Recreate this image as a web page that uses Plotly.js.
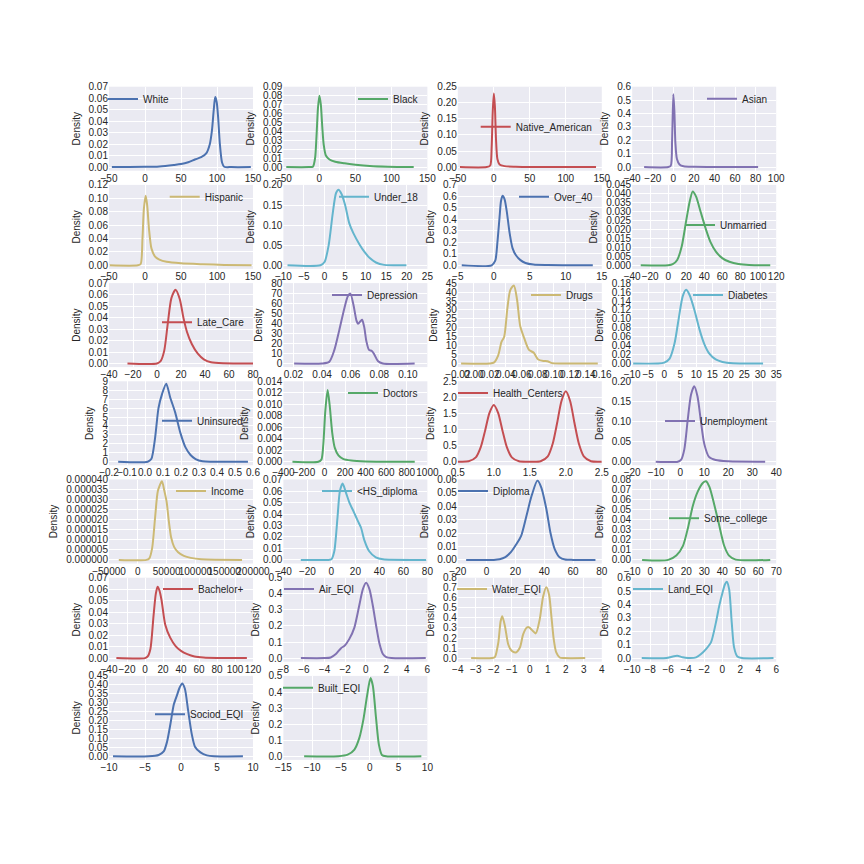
<!DOCTYPE html>
<html><head><meta charset="utf-8">
<script src="https://cdn.plot.ly/plotly-3.0.1.min.js"></script>
<style>html,body{margin:0;padding:0;background:#fff}#chart{width:864px;height:864px}</style>
</head><body><div id="chart"></div>
<script>
const names = ["White","Black","Native_American","Asian","Hispanic","Under_18","Over_40","Unmarried",
  "Late_Care","Depression","Drugs","Diabetes","Uninsured","Doctors","Health_Centers","Unemployment",
  "Income","<HS_diploma","Diploma","Some_college","Bachelor+","Air_EQI","Water_EQI","Land_EQI",
  "Sociod_EQI","Built_EQI"];

const white_x = [-46, 0, 20, 40, 50, 60, 70, 78, 85, 90, 93, 95.5, 97.5, 99.5, 101.5, 104, 107, 110, 120, 147];
const white_y = [0, 0.0002, 0.0006, 0.0018, 0.0026, 0.0042, 0.0068, 0.0086, 0.0120, 0.020, 0.032, 0.050, 0.061, 0.057, 0.044, 0.020, 0.004, 0.0003, 0, 0];
const black_x = [-46, -15, -9, -6, -4, -2, 0, 2, 4, 6, 9, 14, 22, 35, 50, 70, 95, 131];
const black_y = [0, 0, 0.0005, 0.010, 0.035, 0.066, 0.080, 0.070, 0.045, 0.025, 0.013, 0.0085, 0.006, 0.0042, 0.0027, 0.0012, 0.0004, 0];
const native_x = [-47, -10, -5, -3, -1.5, 0, 1.5, 3, 5, 8, 15, 30, 60, 100, 142];
const native_y = [0, 0, 0.005, 0.06, 0.17, 0.229, 0.19, 0.09, 0.025, 0.008, 0.003, 0.0012, 0.0004, 0.0001, 0];
const asian_x = [-28.4, -5, -2.5, -1.2, 0, 1, 2, 3.5, 6, 10, 20, 40, 82.4];
const asian_y = [0, 0, 0.01, 0.2, 0.545, 0.42, 0.18, 0.06, 0.02, 0.006, 0.002, 0.0004, 0];
const hispanic_x = [-49, -10, -6, -3.5, -1.5, 1, 3, 5.5, 9, 14, 20, 30, 50, 80, 110, 148];
const hispanic_y = [0, 0, 0.002, 0.04, 0.085, 0.104, 0.09, 0.055, 0.025, 0.013, 0.0085, 0.0052, 0.003, 0.0016, 0.0006, 0];
const under18_x = [-9, -1, 0, 1, 2, 2.8, 3.4, 4.1, 5, 6, 7, 8.5, 9.8, 11, 12.5, 14.5, 19.9];
const under18_y = [0, 0, 0.008, 0.05, 0.13, 0.18, 0.188, 0.178, 0.15, 0.105, 0.08, 0.052, 0.032, 0.018, 0.007, 0.001, 0];
const over40_x = [-4.45, -0.3, 0.2, 0.5, 0.8, 1.0, 1.22, 1.5, 1.8, 2.2, 2.6, 3.1, 3.7, 4.4, 5.5, 7.5, 13.75];
const over40_y = [0, 0, 0.04, 0.2, 0.42, 0.56, 0.606, 0.575, 0.47, 0.28, 0.15, 0.085, 0.045, 0.02, 0.006, 0.002, 0];
const unmarried_x = [-30.5, 0, 5, 10, 15, 20, 24, 27.2, 31, 36, 42, 47, 53, 60, 68, 78, 90, 113.4];
const unmarried_y = [0, 0, 0.0006, 0.003, 0.0105, 0.025, 0.036, 0.0414, 0.0385, 0.030, 0.020, 0.013, 0.0077, 0.004, 0.002, 0.0007, 0.0001, 0];
const latecare_x = [-24.6, 0, 3, 6, 9, 12, 15.5, 19, 22, 25, 29, 34, 39, 45, 55, 80];
const latecare_y = [0, 0, 0.002, 0.011, 0.035, 0.057, 0.0643, 0.056, 0.040, 0.0275, 0.017, 0.0085, 0.0036, 0.001, 0.0001, 0];
const depression_x = [0.0205, 0.04, 0.045, 0.0485, 0.052, 0.0556, 0.058, 0.0598, 0.062, 0.064, 0.0652, 0.0668, 0.068, 0.0695, 0.071, 0.0728, 0.0748, 0.0765, 0.079, 0.0825, 0.1047];
const depression_y = [0, 0, 1.6, 13, 33, 55, 67, 69.6, 58, 43, 39.5, 42, 43.5, 36, 22, 13.5, 12.5, 9, 2.5, 0, 0];
const drugs_x = [-0.0159, 0.02, 0.025, 0.0305, 0.0345, 0.038, 0.042, 0.0455, 0.0501, 0.054, 0.058, 0.063, 0.069, 0.075, 0.0805, 0.087, 0.092, 0.098, 0.11, 0.155];
const drugs_y = [0, 0, 0.5, 4.6, 12, 15, 31, 41, 43.75, 36, 21, 14.2, 7.6, 6, 2.2, 1.4, 1.3, 0.2, 0, 0];
const diabetes_x = [-9.7, -2, 0, 1.7, 3.2, 4.7, 5.8, 6.84, 7.9, 9.4, 11, 12.5, 14.1, 16.1, 18.2, 21.5, 30.9];
const diabetes_y = [0, 0, 0.002, 0.011, 0.044, 0.108, 0.151, 0.165, 0.154, 0.121, 0.077, 0.044, 0.022, 0.009, 0.0035, 0.0005, 0];
const uninsured_x = [-0.149, 0.015, 0.035, 0.055, 0.075, 0.095, 0.118, 0.14, 0.168, 0.197, 0.225, 0.253, 0.281, 0.32, 0.572];
const uninsured_y = [0, 0, 0.3, 2.5, 6, 7.6, 8.74, 7.2, 5.5, 3.2, 1.6, 0.75, 0.3, 0.05, 0];
const doctors_x = [-312, -60, -30, -12, 8, 30, 50, 75, 100, 135, 180, 260, 400, 877];
const doctors_y = [0, 0, 0.0004, 0.003, 0.009, 0.0125, 0.0098, 0.005, 0.0024, 0.0011, 0.0005, 0.0002, 0.00005, 0];
const health_x = [0.5, 0.65, 0.75, 0.82, 0.88, 0.94, 1.0, 1.06, 1.12, 1.18, 1.25, 1.35, 1.5, 1.65, 1.75, 1.82, 1.88, 1.94, 2.0, 2.06, 2.12, 2.18, 2.25, 2.35, 2.5];
const health_y = [0, 0.011, 0.134, 0.462, 0.974, 1.52, 1.765, 1.52, 0.974, 0.462, 0.134, 0.011, 0, 0.014, 0.166, 0.574, 1.21, 1.89, 2.19, 1.89, 1.21, 0.574, 0.166, 0.014, 0];
const unemp_x = [-10.2, -1, 0.4, 1.7, 3.1, 4.5, 5.86, 7.2, 8.6, 10, 12, 14.8, 20, 35.4];
const unemp_y = [0, 0, 0.005, 0.03, 0.102, 0.167, 0.188, 0.163, 0.102, 0.045, 0.012, 0.004, 0.001, 0];
const income_x = [-33000, 15000, 20000, 25000, 30000, 35000, 41900, 46000, 50000, 54000, 58000, 63000, 70000, 80000, 92000, 110000, 181000];
const income_y = [0, 0, 0.0000008, 0.000006, 0.000021, 0.0000345, 0.0000392, 0.0000345, 0.000029, 0.000019, 0.000011, 0.0000065, 0.0000038, 0.000002, 0.000001, 0.0000003, 0];
const hsdip_x = [-25.5, -2, 0, 2.4, 5, 7.1, 9.4, 12, 15, 19, 22, 24.7, 27.5, 31.5, 37, 43, 79];
const hsdip_y = [0, 0, 0.0005, 0.0075, 0.036, 0.06, 0.0665, 0.059, 0.05, 0.041, 0.034, 0.028, 0.017, 0.0075, 0.0022, 0.0005, 0];
const diploma_x = [-14.2, 5, 9, 13, 17, 20.5, 24, 27.7, 31.2, 35.3, 38, 41.5, 44.3, 47.3, 50.7, 54.5, 60, 75.6];
const diploma_y = [0, 0, 0.0004, 0.002, 0.006, 0.0115, 0.018, 0.033, 0.0477, 0.0593, 0.054, 0.038, 0.0205, 0.0081, 0.002, 0.0003, 0, 0];
const somecol_x = [-4.5, 10, 14.5, 18.2, 21, 23.7, 26.4, 29.2, 31, 32.9, 35.6, 38.4, 41.1, 43.8, 47.5, 66.7];
const somecol_y = [0, 0, 0.0043, 0.014, 0.032, 0.054, 0.068, 0.0766, 0.0783, 0.0727, 0.055, 0.034, 0.0141, 0.0043, 0.0003, 0];
const bachelor_x = [-31.8, 0, 3, 6, 9.5, 12, 14, 16, 18.5, 22.5, 28, 34, 40, 47, 55, 65, 80, 113.2];
const bachelor_y = [0, 0, 0.0015, 0.008, 0.037, 0.056, 0.0621, 0.059, 0.05, 0.029, 0.0178, 0.0105, 0.0063, 0.0034, 0.0014, 0.0005, 0.0001, 0];
const air_x = [-6.3, -4, -3.4, -2.9, -2.4, -2.05, -1.6, -1.1, -0.6, -0.28, 0.04, 0.37, 0.7, 1.02, 1.35, 1.67, 2.0, 2.5, 5.84];
const air_y = [0, 0, 0.004, 0.025, 0.062, 0.077, 0.118, 0.19, 0.335, 0.428, 0.469, 0.428, 0.324, 0.2, 0.087, 0.025, 0.006, 0, 0];
const water_x = [-3.26, -2.1, -1.94, -1.75, -1.62, -1.53, -1.38, -1.2, -1.01, -0.77, -0.55, -0.37, -0.18, -0.055, 0.09, 0.33, 0.55, 0.74, 0.92, 1.07, 1.2, 1.33, 1.47, 1.66, 1.9, 3.08];
const water_y = [0, 0, 0.01, 0.154, 0.367, 0.416, 0.318, 0.138, 0.072, 0.056, 0.105, 0.236, 0.302, 0.308, 0.285, 0.246, 0.384, 0.613, 0.705, 0.63, 0.416, 0.187, 0.056, 0.006, 0, 0];
const land_x = [-8.94, -6.2, -5.6, -5.0, -4.4, -3.8, -2.9, -2.35, -1.8, -1.25, -0.7, -0.33, 0.04, 0.3, 0.51, 0.77, 1.06, 1.32, 1.68, 2.2, 5.7];
const land_y = [0, 0, 0.01, 0.017, 0.006, 0.001, 0.005, 0.03, 0.067, 0.117, 0.265, 0.39, 0.49, 0.55, 0.57, 0.515, 0.265, 0.08, 0.012, 0, 0];
const sociod_x = [-9.44, -4.5, -3.1, -2.4, -1.94, -1.47, -1.0, -0.54, -0.2, 0.16, 0.53, 1.0, 1.48, 1.94, 2.7, 3.6, 4.6, 8.6];
const sociod_y = [0, 0, 0.007, 0.027, 0.081, 0.181, 0.29, 0.344, 0.384, 0.408, 0.38, 0.254, 0.127, 0.054, 0.022, 0.005, 0, 0];
const built_x = [-11.4, -5.5, -3.84, -2.67, -1.8, -1.1, -0.47, 0.12, 0.52, 1.1, 1.57, 2.1, 2.85, 8.95];
const built_y = [0, 0, 0.01, 0.042, 0.116, 0.231, 0.378, 0.487, 0.441, 0.231, 0.074, 0.008, 0, 0];

const curves = [[white_x,white_y],[black_x,black_y],[native_x,native_y],[asian_x,asian_y],
  [hispanic_x,hispanic_y],[under18_x,under18_y],[over40_x,over40_y],[unmarried_x,unmarried_y],
  [latecare_x,latecare_y],[depression_x,depression_y],[drugs_x,drugs_y],[diabetes_x,diabetes_y],
  [uninsured_x,uninsured_y],[doctors_x,doctors_y],[health_x,health_y],[unemp_x,unemp_y],
  [income_x,income_y],[hsdip_x,hsdip_y],[diploma_x,diploma_y],[somecol_x,somecol_y],
  [bachelor_x,bachelor_y],[air_x,air_y],[water_x,water_y],[land_x,land_y],
  [sociod_x,sociod_y],[built_x,built_y]];

// axis scales (tick labels)
const xRanges = [[-50,150],[-50,150],[-50,150],[-40,100],[-50,150],[-10,25],[-5,15],[-40,120],
  [-40,80],[0.013,0.1136],[-0.02,0.16],[-10,35],[-0.2,0.6],[-400,1000],[0.5,2.5],[-20,40],
  [-50000,200000],[-40,80],[-20,80],[-10,70],[-40,120],[-8,6],[-4,4],[-10,6],[-10,10],[-15,10]];
const xSteps = [50,50,50,20,50,5,5,20, 20,0.02,0.02,5,0.1,200,0.5,10, 50000,20,20,10,20,2,1,2,5,5];
const xFormats = ['d','d','d','d','d','d','d','d', 'd','.2f','.2f','d','.1f','d','.1f','d', 'd','d','d','d','d','d','d','d','d','d'];
const yMax = [0.07,0.09,0.25,0.6,0.12,0.2,0.7,0.045, 0.07,80,45,0.18,9,0.014,2.5,0.2, 0.00004,0.07,0.06,0.08,0.07,0.5,0.8,0.6,0.45,0.5];
const ySteps = [0.01,0.01,0.05,0.1,0.02,0.05,0.1,0.005, 0.01,10,5,0.02,1,0.002,0.5,0.05, 0.000005,0.01,0.01,0.01,0.01,0.1,0.1,0.1,0.05,0.1];
const yFormats = ['.2f','.2f','.2f','.1f','.2f','.2f','.1f','.3f', '.2f','d','d','.2f','d','.3f','.1f','.2f', '.6f','.2f','.2f','.2f','.2f','.1f','.1f','.1f','.2f','.1f'];

// legend text anchor positions (px: text left, text middle)
const legendPos = [[145,99],[395,99],[517.7,126.7],[744,98.7],
  [206.7,196.7],[376,196.7],[556,196.7],[722,225],
  [199,322.3],[369,295],[568,295],[730,295],
  [199,420.7],[385,393],[495,393],[702,421],
  [213,491],[359,491],[495,491],[706,518.3],
  [200,589],[321,589],[494,589],[670,589],
  [192,714.3],[320,687.7]];

const palette = ['#4C72B0','#55A868','#C44E52','#8172B2','#CCB974','#64B5CD'];
const W = 864, H = 864;
const textColor = '#262626';
const traces = [];
const layout = {
  width: W, height: H, margin: {l:0,r:0,t:0,b:0},
  paper_bgcolor: '#ffffff', plot_bgcolor: '#EAEAF2',
  font: {family: 'Liberation Sans, Arial, sans-serif', size: 10, color: textColor},
  showlegend: true
};

for (let i = 0; i < names.length; i++) {
  const r = Math.floor(i / 4), c = i % 4;
  const left = 109 + c * 174.4, width = 144;
  const top = 86.7 + r * 98.2, height = 84;
  const sfx = i === 0 ? '' : String(i + 1);
  const legId = 'legend' + sfx;
  traces.push({
    type: 'scatter', mode: 'lines',
    x: curves[i][0], y: curves[i][1],
    xaxis: 'x' + sfx, yaxis: 'y' + sfx,
    name: names[i].replace('<', '&lt;'),
    legend: legId,
    line: {color: palette[i % 6], width: 2, shape: 'spline', smoothing: 0.7},
    hoverinfo: 'skip'
  });
  layout['xaxis' + sfx] = {
    domain: [left / W, (left + width) / W], anchor: 'y' + sfx,
    range: xRanges[i], tickmode: 'linear', tick0: 0, dtick: xSteps[i], tickformat: xFormats[i],
    showgrid: true, gridcolor: '#ffffff', gridwidth: 1, zeroline: false, showline: false,
    ticks: '', tickangle: 0, tickfont: {size: 10, color: textColor}, fixedrange: true
  };
  layout['yaxis' + sfx] = {
    domain: [1 - (top + height) / H, 1 - top / H], anchor: 'x' + sfx,
    range: [-0.045 * yMax[i], yMax[i] * 1.001], tickmode: 'linear', tick0: 0, dtick: ySteps[i], tickformat: yFormats[i],
    showgrid: true, gridcolor: '#ffffff', gridwidth: 1, zeroline: false, showline: false,
    ticks: '', tickfont: {size: 10, color: textColor}, fixedrange: true,
    title: {text: 'Density', font: {size: 10, color: textColor}, standoff: 6}
  };
  layout[legId] = {
    x: (legendPos[i][0] - 42) / W, y: 1 - legendPos[i][1] / H,
    xanchor: 'left', yanchor: 'middle', xref: 'paper', yref: 'paper',
    bgcolor: 'rgba(0,0,0,0)', borderwidth: 0,
    font: {size: 10, color: textColor}, itemwidth: 30
  };
}

Plotly.newPlot('chart', traces, layout, {displayModeBar: false, staticPlot: true});
</script></body></html>
